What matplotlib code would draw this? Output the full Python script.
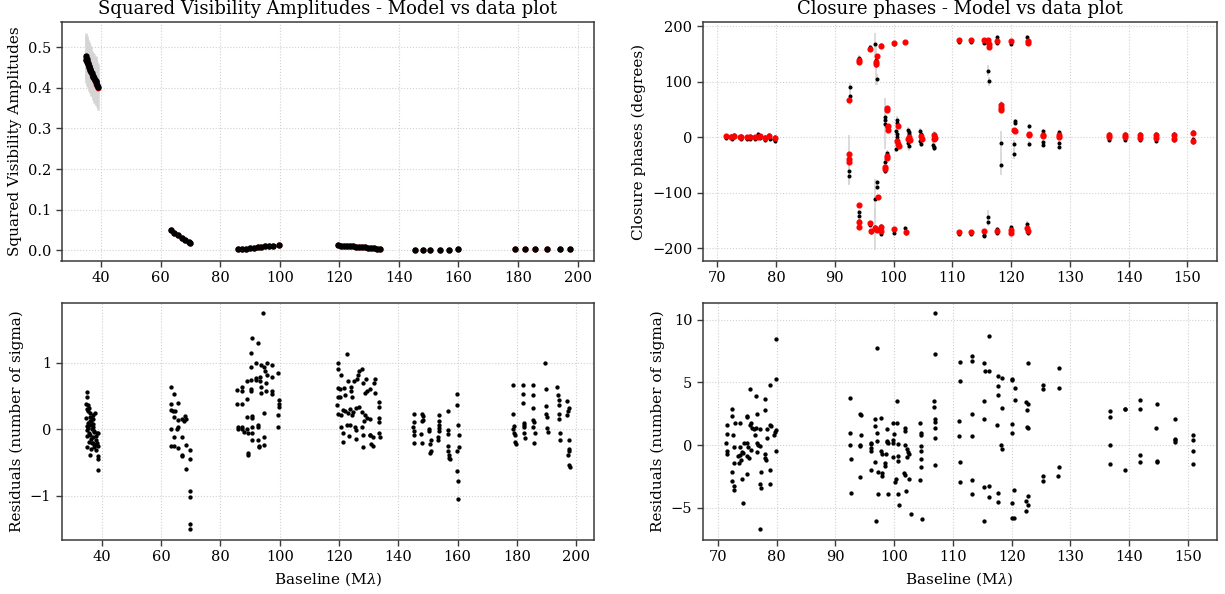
import matplotlib
matplotlib.use("Agg")
import matplotlib.pyplot as plt

plt.rcParams['font.family'] = ['DejaVu Serif']
plt.rcParams['mathtext.fontset'] = 'dejavuserif'

# ---------------- Squared visibilities (top-left) ----------------
v2_base = [34.8, 35.0, 35.1, 35.3, 35.4, 35.6, 35.8, 36.0, 36.2, 36.4, 36.6, 36.9, 37.1, 37.3, 37.6, 37.8, 38.1, 38.3, 38.6, 38.8,
           63.3, 64.5, 65.7, 67.0, 68.3, 69.6, 69.8,
           85.8, 87.2, 88.6, 90.0, 91.3, 92.6, 93.8, 95.0, 96.3, 97.8, 99.7,
           119.6, 120.5, 121.5, 122.5, 123.5, 124.5, 125.5, 126.5, 127.5, 128.5, 129.5, 130.5, 131.5, 132.5, 133.5,
           145.3, 148.0, 150.6, 153.7, 156.8, 160.0,
           179.0, 182.3, 185.6, 189.8, 194.0, 197.5]
v2_data = [0.470, 0.478, 0.465, 0.472, 0.458, 0.462, 0.452, 0.455, 0.447, 0.445, 0.440, 0.436, 0.430, 0.427, 0.424, 0.420, 0.415, 0.418, 0.408, 0.402,
           0.049, 0.043, 0.037, 0.031, 0.025, 0.020, 0.017,
           0.002, 0.002, 0.004, 0.005, 0.006, 0.007, 0.008, 0.009, 0.010, 0.011, 0.013,
           0.012, 0.011, 0.011, 0.010, 0.010, 0.009, 0.008, 0.008, 0.007, 0.007, 0.006, 0.005, 0.005, 0.004, 0.004,
           0.0003, 0.0003, 0.0004, 0.0005, 0.001, 0.002,
           0.004, 0.004, 0.004, 0.003, 0.002, 0.002]
v2_err = [0.058, 0.057, 0.060, 0.055, 0.058, 0.056, 0.060, 0.055, 0.058, 0.057, 0.060, 0.056, 0.055, 0.058, 0.060, 0.056, 0.057, 0.060, 0.055, 0.056,
          0.001, 0.001, 0.001, 0.001, 0.001, 0.001, 0.001,
          0.0005, 0.0005, 0.0005, 0.0005, 0.0005, 0.0005, 0.0005, 0.0005, 0.0005, 0.0005, 0.0005,
          0.0005, 0.0005, 0.0005, 0.0005, 0.0005, 0.0005, 0.0005, 0.0005, 0.0005, 0.0005, 0.0005, 0.0005, 0.0005, 0.0005, 0.0005,
          0.0003, 0.0003, 0.0003, 0.0003, 0.0003, 0.0003,
          0.0003, 0.0003, 0.0003, 0.0003, 0.0003, 0.0003]
v2_model = [0.468, 0.474, 0.466, 0.468, 0.460, 0.458, 0.454, 0.450, 0.446, 0.442, 0.438, 0.433, 0.430, 0.426, 0.421, 0.418, 0.414, 0.410, 0.405, 0.400,
            0.049, 0.043, 0.037, 0.031, 0.025, 0.020, 0.018,
            0.002, 0.003, 0.004, 0.005, 0.006, 0.007, 0.008, 0.009, 0.010, 0.011, 0.013,
            0.012, 0.011, 0.011, 0.010, 0.010, 0.009, 0.008, 0.008, 0.007, 0.007, 0.006, 0.005, 0.005, 0.004, 0.004,
            0.0003, 0.0003, 0.0004, 0.0005, 0.001, 0.002,
            0.004, 0.004, 0.004, 0.003, 0.002, 0.002]

# ---------------- Closure phases (top-right) ----------------
cp_base = [71.5, 71.5, 72.4, 72.5, 72.8, 72.8, 73.8, 74.1, 74.1, 75.1, 75.1, 75.5, 75.6, 76.5, 76.6, 77.0, 77.2, 77.3, 78.1, 78.2, 78.8, 79.0, 79.7, 79.8, 79.8,
           92.6, 92.6, 92.4, 92.4, 92.4,
           94.2, 94.2, 94.2, 94.2, 94.2, 94.2,
           96.0, 96.0, 96.1,
           96.8, 97.0, 97.0, 97.1, 97.2, 97.2, 96.8, 96.8, 96.9, 97.0,
           97.8, 97.8, 97.8, 97.8,
           98.5, 98.5, 98.6, 98.9, 98.8, 98.6, 98.5,
           100.0, 100.0,
           100.5, 100.6, 100.4, 100.5, 100.6, 100.5, 100.8, 100.4,
           102.0, 102.0, 102.1,
           102.5, 102.7, 102.6, 102.4, 102.6,
           104.5, 104.7, 104.8, 104.5, 104.6,
           106.8, 107.0, 106.7, 106.9, 106.8,
           111.1, 111.1, 113.2, 113.2, 115.3, 115.4, 115.4,
           116.1, 116.1, 116.2, 116.1, 116.1,
           117.6, 117.6, 117.6, 117.6,
           118.3, 118.3, 118.3,
           120.0, 120.0, 120.0,
           120.6, 120.6, 120.5, 120.5,
           122.7, 122.8, 122.7, 122.8, 123.0, 123.0,
           125.4, 125.4, 125.4,
           128.1, 128.1, 128.1, 128.2,
           136.7, 136.7, 139.3, 139.3, 141.9, 141.9, 144.7, 144.7, 147.7, 147.7,
           151.0, 151.0, 151.0]
cp_data = [2, -1, 3, -2, 5, 0, 1, 3, -2, 1, -3, 2, -2, -3, 1, 6, 2, -1, -4, 1, 5, -2, -3, -7, 1,
           91, 75, -40, -60, -69,
           144, 140, -134, -141, -162, -150,
           163, -157, -170,
           168, 131, 140, 105, -81, -89, -110, -165, -161, -166,
           166, -160, -167, -174,
           25, 32, 37, 19, -28, -44, -60,
           168, -172,
           31, 26, 11, 7, 1, -4, -14, -20,
           172, -163, -172,
           13, 10, 7, -10, -16,
           11, 7, -2, -6, -11,
           6, 2, -14, -17, -19,
           172, -174, 172, -174, 171, -175, -178,
           171, 120, 101, -143, -152,
           181, 171, -165, -172,
           61, -10, -49,
           169, -162, -171,
           29, 26, -12, -29,
           181, 170, -155, -172, 20, -12,
           12, -8, -13,
           10, 6, -10, -17,
           7, -4, 7, -4, 7, -5, 7, -7, 6, -5,
           10, -2, -8]
cp_err = [3, 3, 3, 3, 3, 3, 3, 3, 3, 3, 3, 3, 3, 3, 3, 3, 3, 3, 3, 3, 3, 3, 3, 3, 3,
          7, 17, 45, 12, 15,
          4, 4, 4, 4, 5, 4,
          3, 5, 4,
          20, 37, 8, 10, 5, 5, 36, 38, 4, 5,
          3, 4, 4, 4,
          46, 6, 6, 6, 5, 5, 5,
          3, 4,
          8, 6, 5, 6, 5, 6, 5, 6,
          3, 4, 3,
          6, 5, 6, 10, 8,
          6, 6, 5, 8, 6,
          5, 5, 6, 7, 5,
          3, 3, 3, 3, 3, 4, 3,
          3, 10, 8, 12, 8,
          3, 3, 4, 3,
          4, 22, 19,
          3, 4, 3,
          4, 4, 8, 10,
          3, 3, 4, 3, 4, 5,
          3, 3, 3,
          3, 3, 3, 3,
          3, 3, 3, 3, 3, 3, 3, 3, 3, 3,
          3, 3, 3]
cpm_base = [71.5, 72.4, 72.8, 73.8, 74.1, 75.1, 75.5, 76.5, 76.9, 77.3, 78.1, 78.8, 79.8,
            92.5, 92.4, 92.4, 92.4,
            94.2, 94.2, 94.2, 94.2, 94.2,
            96.0, 96.0, 96.1,
            97.2, 97.0, 97.0, 97.3, 96.9, 97.1,
            97.8, 97.8, 97.8,
            98.8, 98.8, 99.0, 99.0, 98.9, 98.9, 98.6, 98.6,
            100.0, 100.0,
            100.8, 100.6, 100.7, 101.0,
            102.0, 102.1,
            102.7, 102.5, 102.8,
            104.6, 104.8,
            106.8, 106.9, 107.1,
            111.1, 111.1, 113.2, 113.2, 115.3, 115.4,
            116.1, 116.2, 116.3,
            117.6, 117.6,
            118.2, 118.3, 118.2,
            120.0, 120.0, 120.0,
            120.5, 120.6,
            122.8, 122.9, 122.7, 122.8, 123.0, 123.0,
            125.4, 125.4,
            128.1, 128.1,
            136.7, 136.7, 139.3, 139.3, 141.9, 141.9, 144.7, 144.7, 147.7, 147.7,
            150.9, 151.0]
cpm_phase = [2, 0, 2, 1, 1, 0, 1, 0, 1, 2, -1, 3, -1,
             67, -29, -38, -44,
             139, 136, -122, -153, -162,
             160, -154, -168,
             147, 136, 133, -107, -163, -166,
             165, -162, -169,
             54, 50, 21, 13, -34, -37, -53, -57,
             170, -165,
             20, -6, -11, -15,
             172, -171,
             1, -2, -5,
             2, -2,
             4, -2, -1,
             176, -171, 176, -171, 176, -169,
             175, 169, 163,
             174, -169,
             58, 54, 50,
             173, -166, -172,
             13, 11,
             174, 171, -163, -168, 7, 5,
             5, 2,
             4, 1,
             4, 0, 4, 0, 4, -1, 5, -1, 4, -2,
             8, -6]

# ---------------- Residuals V2 (bottom-left) ----------------
res_v2_base = [34.9, 34.9, 34.6, 35.4, 35.7, 35.1, 37.8, 37.0, 35.9, 36.7, 34.6, 36.4, 35.4, 37.0, 36.2, 35.4, 36.7, 34.9, 37.5, 38.3,
               38.8, 35.9, 37.2, 35.1, 36.4, 38.0, 35.7, 37.0, 37.8, 38.6, 35.1, 36.4, 37.5, 36.2, 38.6, 38.6, 38.6,
               35.3, 36.0, 36.9, 37.4, 38.1, 36.6, 35.6, 37.9, 36.1, 35.0, 38.4, 37.2,
               63.4, 64.4, 63.4, 65.7, 63.3, 63.9, 64.6, 64.5, 65.7, 67.0, 68.1, 68.4, 67.6, 65.6, 63.4, 65.5, 64.4, 67.0,
               63.4, 64.4, 65.6, 68.4, 67.0, 67.1, 69.9, 69.9, 68.3, 69.9, 69.9, 69.9, 69.9,
               85.6, 87.2, 85.6, 87.4, 89.0, 85.8, 86.0, 87.4, 87.4, 88.1, 89.0, 89.2, 90.8, 90.8, 92.6, 89.0, 90.8, 90.8,
               89.2, 89.2, 90.8, 92.8, 92.9, 92.9, 94.8, 94.8, 90.3, 90.3, 90.3, 89.1, 87.2, 91.9, 91.9, 93.3, 93.5, 93.6,
               93.7, 95.3, 95.5, 90.3, 91.9, 93.7, 94.8, 95.7, 97.3, 95.1, 95.7, 97.3, 90.3, 90.6, 92.6, 94.5, 97.3, 97.5,
               99.3, 99.6, 99.8, 99.6, 99.3, 99.3, 94.8, 92.6,
               122.8, 119.8, 119.8, 120.8, 119.6, 120.2, 119.7, 120.3, 121.7, 121.9, 123.0, 123.9, 124.2, 124.5, 125.1, 126.0,
               126.4, 126.6, 127.8, 128.0, 129.1, 129.3, 128.9, 130.4, 131.9, 132.2, 132.0,
               119.3, 119.6, 120.5, 121.4, 122.1, 122.9, 123.6, 124.3, 124.6, 125.7, 126.6, 127.8, 128.9, 129.3, 130.6, 133.4,
               133.4, 133.4, 133.4, 120.8, 122.6, 123.7, 125.5, 125.7, 127.8, 128.4, 121.2, 123.4, 125.7, 128.0, 130.6, 131.3,
               130.9, 131.6, 133.4, 133.7, 121.2, 128.0, 130.4,
               145.3, 145.3, 145.1, 145.3, 145.3, 145.3, 148.0, 148.2, 148.2, 148.1, 147.8, 148.0,
               150.4, 150.4, 150.9, 150.6, 150.9, 150.6, 153.6, 153.8, 153.8, 153.7, 153.7, 153.4, 153.4,
               156.6, 156.7, 156.7, 156.7, 156.7, 157.0, 157.2, 157.4,
               159.9, 159.9, 160.1, 160.6, 160.3, 159.9, 159.9, 160.1, 160.1,
               178.5, 178.5, 179.0, 178.8, 179.0, 179.2, 179.4, 179.5,
               182.1, 182.1, 182.1, 182.3, 182.5, 182.5, 182.5, 182.6,
               185.3, 185.3, 185.5, 185.5, 185.9, 185.5, 186.1, 185.9,
               189.6, 189.9, 189.9, 189.9, 190.1, 190.0, 190.3,
               193.5, 193.8, 194.0, 194.0, 194.0, 194.2, 194.4, 194.4,
               197.0, 197.4, 197.2, 197.0, 197.4, 197.4, 197.4, 197.2, 197.6, 197.9]
res_v2 = [0.56, 0.48, 0.38, 0.37, 0.32, 0.30, 0.24, 0.22, 0.18, 0.17, 0.17, 0.12, 0.09, 0.08, 0.06, 0.02, 0.01, -0.01, -0.04, -0.06,
          -0.05, -0.09, -0.11, -0.10, -0.15, -0.16, -0.19, -0.21, -0.24, -0.25, -0.26, -0.29, -0.27, -0.39, -0.40, -0.44, -0.61,
          0.28, 0.13, 0.03, -0.02, -0.10, -0.20, -0.05, -0.31, 0.25, 0.05, -0.20, 0.15,
          0.64, 0.53, 0.38, 0.40, 0.29, 0.28, 0.27, 0.19, 0.14, 0.15, 0.20, 0.16, 0.12, 0.03, 0.01, 0.00, -0.12, -0.12,
          -0.25, -0.25, -0.28, -0.23, -0.38, -0.40, -0.31, -0.45, -0.59, -0.93, -1.02, -1.42, -1.50,
          0.59, 0.58, 0.38, 0.38, 0.45, 0.04, 0.01, 0.04, 0.00, -0.04, 0.01, -0.05, 0.03, -0.05, 0.07, 0.19, 0.20, 0.17,
          -0.36, -0.38, -0.16, -0.16, -0.25, -0.27, -0.11, -0.24, 0.74, 0.61, 0.58, 0.73, 0.64, 0.74, 0.77, 0.79, 0.73, 0.63,
          0.54, 0.70, 0.57, 0.93, 0.99, 0.96, 0.94, 0.99, 0.96, 0.87, 0.82, 0.79, 1.14, 1.37, 1.30, 1.74, 0.57, 0.53,
          0.85, 0.44, 0.38, 0.34, 0.21, 0.03, 0.25, 0.03,
          1.13, 1.00, 0.90, 0.82, 0.62, 0.61, 0.48, 0.49, 0.62, 0.51, 0.72, 0.64, 0.58, 0.48, 0.73, 0.75,
          0.82, 0.88, 0.91, 0.70, 0.75, 0.58, 0.55, 0.61, 0.69, 0.76, 0.54,
          0.36, 0.23, 0.21, 0.29, 0.27, 0.25, 0.30, 0.21, 0.26, 0.32, 0.33, 0.26, 0.21, 0.17, 0.16, 0.41,
          0.33, 0.17, 0.11, 0.03, 0.07, 0.06, 0.03, -0.01, 0.04, 0.12, -0.06, -0.10, -0.14, -0.09, -0.08, -0.11,
          -0.22, -0.25, -0.06, -0.11, -0.19, -0.27, -0.08,
          0.23, 0.11, 0.04, -0.02, -0.09, -0.20, 0.23, 0.20, 0.14, 0.12, -0.07, -0.20,
          0.00, -0.03, -0.16, -0.22, -0.32, -0.35, 0.21, 0.12, 0.07, 0.02, -0.03, -0.11, -0.16,
          0.28, -0.01, -0.07, -0.25, -0.32, -0.39, -0.43, -0.45,
          0.53, 0.36, 0.06, -0.08, -0.27, -0.32, -0.62, -0.77, -1.05,
          0.66, 0.23, 0.05, 0.00, -0.05, -0.08, -0.19, -0.22,
          0.67, 0.53, 0.39, 0.09, 0.06, 0.03, -0.05, -0.13,
          0.67, 0.51, 0.32, 0.14, 0.11, 0.04, -0.06, -0.21,
          1.00, 0.60, 0.35, 0.23, 0.19, 0.02, -0.04,
          0.63, 0.52, 0.44, 0.37, 0.23, 0.16, -0.05, -0.16,
          0.42, 0.32, 0.28, 0.21, -0.16, -0.29, -0.32, -0.39, -0.54, -0.56]

# ---------------- Residuals closure phases (bottom-right) ----------------
res_cp_base = [72.4, 72.4, 71.5, 72.5, 71.5, 71.4, 71.5, 71.5, 72.8, 72.8, 72.4, 72.4, 72.8, 72.8,
               73.0, 73.7, 73.8, 73.7, 74.0, 73.6, 74.4, 74.1, 74.2, 74.1, 74.2,
               74.9, 75.0, 74.9, 75.1, 74.9, 75.3, 75.0, 75.5, 75.6, 75.8, 75.7,
               76.5, 76.6, 76.5, 77.2, 76.4, 76.6, 76.9, 77.2, 76.7, 77.4, 77.2, 77.4, 77.2,
               78.1, 78.1, 78.3, 78.3, 78.1, 78.1, 78.2, 78.9, 78.9, 79.0, 78.9, 78.9,
               79.9, 79.9, 79.9, 79.7, 79.6, 79.9, 75.4, 76.2, 73.4,
               92.5, 92.5, 92.5, 92.6, 92.6, 94.2, 94.3, 94.3, 94.2, 94.2, 94.2,
               96.0, 96.0, 96.0, 96.0, 96.0, 96.8, 96.8, 97.0, 97.0, 97.1, 96.8, 97.2, 97.2, 96.9,
               97.8, 97.8, 97.9, 97.9, 97.9, 98.5, 98.8, 98.7, 98.8, 99.0, 98.6, 98.9, 98.5,
               99.8, 99.8, 99.8, 99.9, 99.8, 100.2, 100.6, 100.4, 100.5, 100.6, 100.6, 100.7, 100.8, 100.3,
               101.8, 101.9, 101.9, 101.7, 101.8, 102.0, 102.1, 102.2, 102.5, 102.8, 102.4, 102.6,
               104.4, 104.5, 104.5, 104.5, 104.5, 104.6, 104.4, 104.8, 104.6,
               106.7, 106.7, 107.0, 106.9, 107.0, 106.9, 106.9, 107.0, 107.0,
               111.2, 111.2, 111.1, 111.1, 111.2, 111.2,
               113.3, 113.3, 113.2, 113.2, 113.3, 113.3,
               115.3, 115.4, 115.3, 115.3, 115.3, 115.3,
               116.1, 116.2, 116.1, 116.2, 117.6, 117.7,
               117.6, 118.3, 117.6, 117.7, 118.3, 117.5, 118.2, 118.3,
               120.1, 120.1, 120.5, 120.5, 120.0, 120.0, 120.4, 120.0, 120.0, 120.4,
               122.8, 122.5, 122.7, 122.6, 122.6, 122.8, 122.5, 122.7, 122.8, 122.5,
               125.3, 125.4, 125.4, 125.3,
               128.0, 128.0, 128.0, 127.9,
               136.8, 136.8, 136.8, 136.8, 139.2, 139.2, 139.2,
               141.8, 141.8, 141.8, 141.8, 144.7, 144.6, 144.7, 144.7,
               147.7, 147.7, 147.7, 147.7, 150.9, 150.9, 150.9, 150.9]
res_cp = [2.85, 2.32, 1.61, 0.84, 0.87, 0.21, -0.50, -0.69, -0.16, -1.40, -2.11, -2.85, -3.27, -3.59,
          1.79, 1.79, -0.13, -0.77, -1.21, -1.42, 0.21, -0.55, -0.62, -2.66, -4.64,
          2.32, 2.28, 0.16, -0.16, -0.90, -1.00, -2.30, 4.49, 1.74, 1.35, -0.40,
          3.93, 2.45, 1.35, 1.29, 0.82, 0.16, 0.00, -0.05, -0.58, -2.11, -3.06, -3.38, -6.70,
          3.72, 2.77, 1.27, 0.58, -0.71, -1.00, -1.16, 4.80, 1.58, 1.50, -1.95, -3.06,
          8.44, 5.30, 1.21, 1.03, 0.82, -0.47, 1.60, 1.30, -0.90,
          3.75, 0.95, 0.05, -1.13, -3.80, 2.51, 2.42, 0.82, 0.05, -0.10, -2.53,
          0.21, 0.10, -0.47, -0.25, -1.98, 1.53, 2.08, 7.78, 0.32, 0.95, -1.32, -2.11, -3.93, -6.07,
          2.14, -0.45, -0.69, -2.22, -2.43, -1.42, 1.32, 0.37, 0.29, 0.21, -0.71, -3.93, -1.64,
          1.79, 0.42, 0.21, 0.90, -0.92, -2.96, -0.90, 3.54, 1.79, 0.10, -1.29, -3.93, -4.80, -2.70,
          1.37, 1.16, 0.05, -2.22, -2.35, -3.69, -0.34, -0.95, -2.66, -5.46, -0.58, -0.70,
          1.79, 1.00, 0.82, -0.03, -0.50, -1.08, -2.74, -5.88, -1.70,
          3.51, 3.01, 2.06, 1.87, 1.35, 0.58, -1.61, 7.23, 10.50,
          6.60, 5.14, 1.90, 0.71, -1.37, -2.96,
          7.15, 6.68, 2.45, 0.71, -2.77, -3.93,
          6.54, 5.88, 3.51, 2.11, -3.32, -6.07,
          5.88, 8.68, -3.22, -4.17, -3.80, -4.54,
          5.49, 5.33, 4.70, 4.04, 2.96, 1.58, 0.03, -0.29,
          5.30, 5.17, 4.59, 3.59, 1.69, 1.00, -3.54, -4.59, -5.78, -5.83,
          6.54, 3.46, 3.30, 2.77, 1.42, 1.35, -4.46, -4.75, -4.06, -5.28,
          4.80, 4.46, -2.45, -2.88,
          6.12, 4.59, -1.74, -2.43,
          2.72, 2.22, 0.03, -1.50, 2.85, 2.90, -2.00,
          3.59, 2.85, -0.77, -1.35, 3.27, 1.37, -1.27, -1.35,
          2.11, 0.53, 0.40, 0.29, 0.79, 0.40, -0.47, -1.50]

# ---------------- Figure ----------------
W, H = 1225, 594
fig = plt.figure(figsize=(W / 100, H / 100), dpi=100)

def px_axes(x0, x1, y0, y1):
    return fig.add_axes([x0 / W, 1 - y1 / H, (x1 - x0) / W, (y1 - y0) / H])

ax_v2 = px_axes(61.5, 594.3, 22.3, 261)
ax_cp = px_axes(702.7, 1216.7, 22.3, 261)
ax_rv = px_axes(61.5, 594.3, 302.7, 540)
ax_rc = px_axes(702.7, 1216.7, 302.7, 540)

for ax in (ax_v2, ax_cp, ax_rv, ax_rc):
    ax.set_axisbelow(True)
    ax.grid(True, linestyle=':', color='#d0d0d0', linewidth=0.8)
    for s in ax.spines.values():
        s.set_color('#3a3a3a')
        s.set_linewidth(1.1)
    ax.tick_params(direction='out', length=4, width=1, color='#3a3a3a',
                   labelsize=10.5, top=False, right=False)

# top-left
ax_v2.errorbar(v2_base, v2_data, yerr=v2_err, fmt='none', ecolor='#d5d5d5',
               elinewidth=1.8, zorder=1)
ax_v2.plot(v2_base, v2_model, 'o', color='red', markersize=3.2, zorder=2)
ax_v2.plot(v2_base, v2_data, 'o', color='black', markersize=3.6, zorder=3)
ax_v2.set_title('Squared Visibility Amplitudes - Model vs data plot', fontsize=13)
ax_v2.set_ylabel('Squared Visibility Amplitudes', fontsize=11)
ax_v2.set_yticks([0.0, 0.1, 0.2, 0.3, 0.4, 0.5])

# top-right
ax_cp.errorbar(cp_base, cp_data, yerr=cp_err, fmt='none', ecolor='#d5d5d5',
               elinewidth=1.2, zorder=1)
ax_cp.plot(cp_base, cp_data, 'o', color='black', markersize=1.9, zorder=2)
ax_cp.plot(cpm_base, cpm_phase, 'o', color='red', markersize=3.4, zorder=3)
ax_cp.set_title('Closure phases - Model vs data plot', fontsize=13)
ax_cp.set_ylabel('Closure phases (degrees)', fontsize=11)
ax_cp.set_yticks([-200, -100, 0, 100, 200])

# bottom-left
ax_rv.plot(res_v2_base, res_v2, 'o', color='black', markersize=2.1)
ax_rv.set_ylabel('Residuals (number of sigma)', fontsize=11)
ax_rv.set_xlabel(r'Baseline (M$\lambda$)', fontsize=11)
ax_rv.set_yticks([-1, 0, 1])

# bottom-right
ax_rc.plot(res_cp_base, res_cp, 'o', color='black', markersize=2.1)
ax_rc.set_ylabel('Residuals (number of sigma)', fontsize=11)
ax_rc.set_xlabel(r'Baseline (M$\lambda$)', fontsize=11)
ax_rc.set_yticks([-5, 0, 5, 10])

for ax in (ax_v2, ax_rv):
    ax.set_xticks([40, 60, 80, 100, 120, 140, 160, 180, 200])
for ax in (ax_cp, ax_rc):
    ax.set_xticks([70, 80, 90, 100, 110, 120, 130, 140, 150])

fig.savefig('out.png', dpi=100)
